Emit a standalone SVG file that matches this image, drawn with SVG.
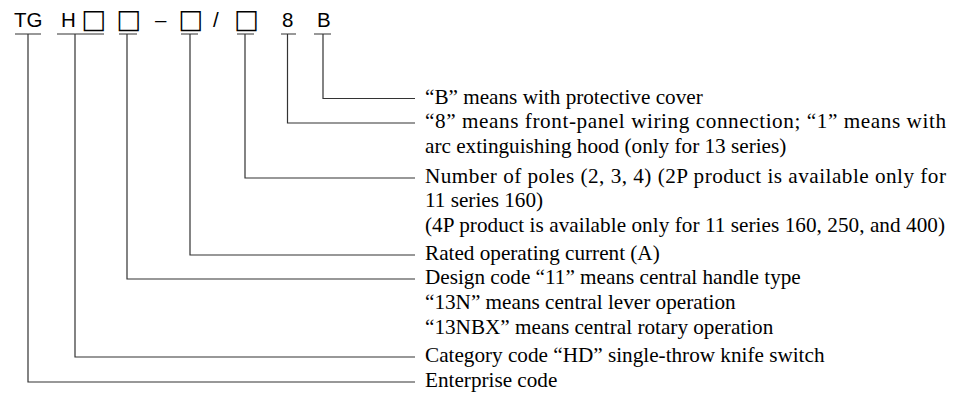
<svg xmlns="http://www.w3.org/2000/svg" width="960" height="394" viewBox="0 0 960 394">
<style>
.hd{font-family:"Liberation Sans",Arial,sans-serif;font-size:20.5px;fill:#000}
.sq{font-family:"DejaVu Sans",sans-serif;font-size:26.5px;fill:#000}
.tx{font-family:"Liberation Serif","Times New Roman",serif;font-size:21.2px;fill:#000}
.ln{fill:none;stroke:#333;stroke-width:1.2}
</style>
<rect width="960" height="394" fill="#fff"/>
<g id="code">
<text class="hd" x="14" y="27">TG</text>
<text class="hd" x="61" y="27">H</text>
<text class="sq" x="81.3" y="28">□</text>
<text class="sq" x="116.3" y="28">□</text>
<text class="hd" x="155" y="27">–</text>
<text class="sq" x="178.3" y="28">□</text>
<text class="hd" x="213" y="27">/</text>
<text class="sq" x="234" y="28">□</text>
<text class="hd" x="282" y="27">8</text>
<text class="hd" x="317" y="27">B</text>
</g>
<g id="connectors" class="ln">
<path d="M15 34H41M28 34V382H415"/>
<path d="M57 34H104M75 34V357H415"/>
<path d="M119 34H137M127 34V279H415"/>
<path d="M181 34H198M190 34V255H415"/>
<path d="M237 34H254M245 34V178H415"/>
<path d="M281 34H296M287.5 34V123H415"/>
<path d="M314 34H331M323 34V98.5H415"/>
</g>
<g id="desc-B"><text class="tx" x="425" y="103.5">“B” means with protective cover</text></g>
<g id="desc-8">
<text class="tx" x="425" y="128" textLength="521" lengthAdjust="spacing">“8” means front-panel wiring connection; “1” means with</text>
<text class="tx" x="425" y="152.5">arc extinguishing hood (only for 13 series)</text>
</g>
<g id="desc-poles">
<text class="tx" x="425" y="182.5" textLength="521" lengthAdjust="spacing">Number of poles (2, 3, 4) (2P product is available only for</text>
<text class="tx" x="425" y="207">11 series 160)</text>
<text class="tx" x="425" y="231.5" textLength="520" lengthAdjust="spacing">(4P product is available only for 11 series 160, 250, and 400)</text>
</g>
<g id="desc-current"><text class="tx" x="425" y="259.5">Rated operating current (A)</text></g>
<g id="desc-design">
<text class="tx" x="425" y="284">Design code “11” means central handle type</text>
<text class="tx" x="425" y="308.5">“13N” means central lever operation</text>
<text class="tx" x="425" y="333.5">“13NBX” means central rotary operation</text>
</g>
<g id="desc-category"><text class="tx" x="425" y="361.5">Category code “HD” single-throw knife switch</text></g>
<g id="desc-enterprise"><text class="tx" x="425" y="387">Enterprise code</text></g>
</svg>
